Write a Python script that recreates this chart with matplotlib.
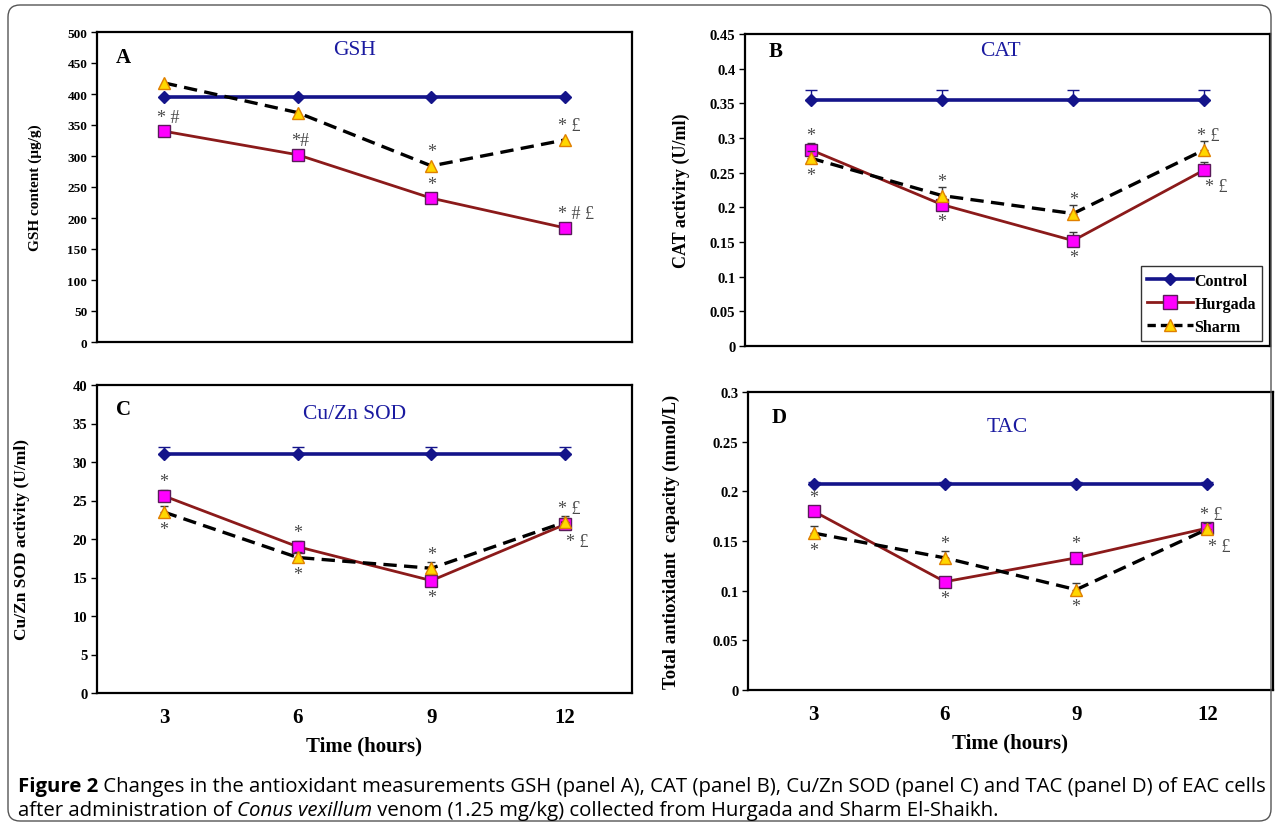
import matplotlib
matplotlib.use("Agg")
import matplotlib.pyplot as plt
from matplotlib.patches import FancyBboxPatch
from matplotlib.transforms import IdentityTransform
from matplotlib.lines import Line2D

# ---------------- data ----------------
times = ["3", "6", "9", "12"]
series_names = ["Control", "Hurgada", "Sharm"]

gsh_control = [395, 395, 395, 395]
gsh_hurgada = [340, 302, 232, 184]
gsh_sharm = [418, 370, 284, 326]
gsh_ticks = ["0", "50", "100", "150", "200", "250", "300", "350", "400", "450", "500"]

cat_control = [0.355, 0.355, 0.355, 0.355]
cat_hurgada = [0.283, 0.204, 0.152, 0.254]
cat_sharm = [0.271, 0.217, 0.191, 0.283]
cat_control_err = [0.014, 0.014, 0.014, 0.014]
cat_hurgada_err = [0.010, 0.008, 0.012, 0.011]
cat_sharm_err = [0.010, 0.012, 0.012, 0.013]
cat_ticks = ["0", "0.05", "0.1", "0.15", "0.2", "0.25", "0.3", "0.35", "0.4", "0.45"]

sod_control = [31.0, 31.0, 31.0, 31.0]
sod_hurgada = [25.6, 19.0, 14.6, 21.9]
sod_sharm = [23.5, 17.6, 16.2, 22.2]
sod_control_err = [0.9, 0.9, 0.9, 0.9]
sod_hurgada_err = [0.7, 0.8, 0.6, 0.8]
sod_sharm_err = [0.8, 0.7, 0.8, 0.8]
sod_ticks = ["0", "5", "10", "15", "20", "25", "30", "35", "40"]

tac_control = [0.207, 0.207, 0.207, 0.207]
tac_hurgada = [0.180, 0.109, 0.133, 0.163]
tac_sharm = [0.158, 0.133, 0.101, 0.162]
tac_control_err = [0.002, 0.002, 0.002, 0.002]
tac_hurgada_err = [0.004, 0.004, 0.004, 0.004]
tac_sharm_err = [0.007, 0.007, 0.007, 0.006]
tac_ticks = ["0", "0.05", "0.1", "0.15", "0.2", "0.25", "0.3"]

# annotations: (point index, series, text, where)
gsh_notes = [(0, "H", "* #", "above"), (1, "H", "*#", "above"), (2, "H", "*", "above"),
             (3, "H", "* # \u00a3", "above"), (2, "S", "*", "above"), (3, "S", "* \u00a3", "above")]
cat_notes = [(0, "H", "*", "above"), (0, "S", "*", "below"), (1, "S", "*", "above"),
             (1, "H", "*", "below"), (2, "S", "*", "above"), (2, "H", "*", "below"),
             (3, "S", "* \u00a3", "above"), (3, "H", "* \u00a3", "belowright")]
sod_notes = [(0, "H", "*", "above"), (0, "S", "*", "below"), (1, "H", "*", "above"),
             (1, "S", "*", "below"), (2, "S", "*", "above"), (2, "H", "*", "below"),
             (3, "S", "* \u00a3", "above"), (3, "H", "* \u00a3", "belowright")]
tac_notes = [(0, "H", "*", "above"), (0, "S", "*", "below"), (1, "S", "*", "above"),
             (1, "H", "*", "below"), (2, "H", "*", "above"), (2, "S", "*", "below"),
             (3, "H", "* \u00a3", "above"), (3, "S", "* \u00a3", "belowright")]

SERIF = ["Liberation Serif", "DejaVu Serif"]
plt.rcParams["font.family"] = SERIF

W, H = 1279, 828
fig = plt.figure(figsize=(W / 100, H / 100), dpi=100)
fig.patch.set_facecolor("white")

frame = FancyBboxPatch((8, 6), 1263, 816, boxstyle="round,pad=0,rounding_size=12",
                       transform=IdentityTransform(), fill=False, edgecolor="#555555",
                       linewidth=1.0)
fig.patches.append(frame)

C_CTRL = "#14148a"
C_HURG_LINE = "#8b1a1a"
C_HURG_FACE = "#ff00ff"
C_HURG_EDGE = "#5a1a5a"
C_SHARM_FACE = "#ffd700"
C_SHARM_EDGE = "#e08000"
C_TITLE = "#1a1aa0"
C_NOTE = "#4a4a4a"

def px_axes(l, t, r, b):
    return fig.add_axes([l / W, 1 - b / H, (r - l) / W, (b - t) / H])

def draw_panel(ax, ctrl, hurg, sharm, errs, ticks, ymax, letter, title, ylabel,
               notes, show_x, letter_pos, title_pos, ylab_x, tick_fs, ylab_fs):
    x = [1, 2, 3, 4]
    ce, he, se = errs
    ax.errorbar(x, ctrl, yerr=[[0] * 4, ce] if ce else None, color=C_CTRL, lw=2.6,
                marker="D", ms=6, mfc=C_CTRL, mec=C_CTRL, ecolor=C_CTRL, elinewidth=1,
                capsize=4, capthick=1, zorder=3)
    ax.errorbar(x, hurg, yerr=[[0] * 4, he] if he else None, color=C_HURG_LINE, lw=2.0,
                marker="s", ms=9, mfc=C_HURG_FACE, mec=C_HURG_EDGE, mew=1.0,
                ecolor="#3a3a3a", elinewidth=1, capsize=3, capthick=1, zorder=4)
    ax.errorbar(x, sharm, yerr=[[0] * 4, se] if se else None, color="black", lw=2.4,
                ls=(0, (4, 2.2)), marker="^", ms=9, mfc=C_SHARM_FACE, mec=C_SHARM_EDGE,
                mew=1.0, ecolor="#3a3a3a", elinewidth=1, capsize=3, capthick=1, zorder=5)
    ax.set_xlim(0.5, 4.5)
    ax.set_ylim(0, ymax)
    ax.set_yticks([float(t) for t in ticks])
    ax.set_yticklabels(ticks, fontsize=tick_fs, fontweight="bold")
    ax.set_xticks(x)
    if show_x:
        ax.set_xticklabels(times, fontsize=15, fontweight="bold")
        ax.tick_params(axis="x", length=0, pad=10)
        ax.set_xlabel("Time (hours)", fontsize=15, fontweight="bold", labelpad=6)
    else:
        ax.set_xticklabels([])
        ax.tick_params(axis="x", length=0)
    ax.tick_params(axis="y", length=4, width=1, direction="out", pad=3)
    for s in ax.spines.values():
        s.set_linewidth(1.6)
        s.set_color("black")
    ax.set_ylabel(ylabel, fontsize=ylab_fs, fontweight="bold")
    ax.yaxis.set_label_coords(ylab_x, 0.5)
    ax.text(letter_pos[0], letter_pos[1], letter, transform=ax.transAxes, fontsize=15,
            fontweight="bold", ha="left", va="center")
    ax.text(title_pos[0], title_pos[1], title, transform=ax.transAxes, fontsize=15.5,
            color=C_TITLE, ha="center", va="center")
    data = {"H": hurg, "S": sharm}
    for i, s, txt, where in notes:
        yv = data[s][i]
        dy = 14 if where == "above" else -17
        dx = 0
        ha = "center"
        if txt != "*":
            ha = "left"
            dx = -7
        if where == "belowright":
            dx = 1
        ax.annotate(txt, (x[i], yv), xytext=(dx * 0.72, dy * 0.72), textcoords="offset points",
                    ha=ha, va="center", fontsize=13, color=C_NOTE, zorder=6)

axA = px_axes(97, 33, 632, 343)
axB = px_axes(745, 35, 1270, 347)
axC = px_axes(97, 386, 632, 694)
axD = px_axes(748, 393, 1273, 691)

draw_panel(axA, gsh_control, gsh_hurgada, gsh_sharm, (None, None, None), gsh_ticks, 500,
           "A", "GSH", "GSH content (\u00b5g/g)", gsh_notes, False,
           (0.035, 0.918), (0.482, 0.945), -0.103, 9.5, 11)
draw_panel(axB, cat_control, cat_hurgada, cat_sharm, (cat_control_err, cat_hurgada_err, cat_sharm_err),
           cat_ticks, 0.45, "B", "CAT", "CAT activiry (U/ml)", cat_notes, False,
           (0.045, 0.945), (0.486, 0.948), -0.105, 10.5, 13)
draw_panel(axC, sod_control, sod_hurgada, sod_sharm, (sod_control_err, sod_hurgada_err, sod_sharm_err),
           sod_ticks, 40, "C", "Cu/Zn SOD", "Cu/Zn SOD activity (U/ml)", sod_notes, True,
           (0.035, 0.922), (0.482, 0.906), -0.125, 10.5, 12.5)
draw_panel(axD, tac_control, tac_hurgada, tac_sharm, (tac_control_err, tac_hurgada_err, tac_sharm_err),
           tac_ticks, 0.3, "D", "TAC", "Total antioxidant  capacity (mmol/L)", tac_notes, True,
           (0.045, 0.916), (0.493, 0.883), -0.13, 10.5, 13.5)

handles = [
    Line2D([], [], color=C_CTRL, lw=2.6, marker="D", ms=6, mfc=C_CTRL, mec=C_CTRL),
    Line2D([], [], color=C_HURG_LINE, lw=2.0, marker="s", ms=10, mfc=C_HURG_FACE, mec=C_HURG_EDGE),
    Line2D([], [], color="black", lw=2.4, ls=(0, (2.5, 1.5)), marker="^", ms=9,
           mfc=C_SHARM_FACE, mec=C_SHARM_EDGE),
]
leg = axB.legend(handles, series_names, loc="lower right", bbox_to_anchor=(0.985, 0.015),
                 frameon=True, fancybox=False, edgecolor="black",
                 prop={"family": SERIF, "weight": "bold", "size": 11.5},
                 handlelength=2.9, handletextpad=0.05, borderpad=0.4, labelspacing=0.45,
                 borderaxespad=0)
leg.get_frame().set_linewidth(1.0)

# ---------------- caption ----------------
CAP_FONT = ["Open Sans", "DejaVu Sans"]
renderer = fig.canvas.get_renderer()

def draw_runs(x0, y0, runs, size):
    x = x0
    objs = []
    for txt, weight, style in runs:
        t = fig.text(x, y0, txt, transform=IdentityTransform(), fontsize=size,
                     fontweight=weight, fontstyle=style, family=CAP_FONT, ha="left",
                     va="baseline")
        bb = t.get_window_extent(renderer)
        x = bb.x1
        objs.append(t)
    return x - x0, objs

line1 = [("Figure 2", "bold", "normal"),
         (" Changes in the antioxidant measurements GSH (panel A), CAT (panel B), Cu/Zn SOD (panel C) and TAC (panel D) of EAC cells",
          "normal", "normal")]
line2 = [("after administration of ", "normal", "normal"), ("Conus vexillum", "normal", "italic"),
         (" venom (1.25 mg/kg) collected from Hurgada and Sharm El-Shaikh.", "normal", "normal")]

wprobe, objs = draw_runs(0, 0, line1, 12)
for o in objs:
    o.remove()
cap_size = 12 * 1248 / wprobe
draw_runs(18, H - 792, line1, cap_size)
draw_runs(18, H - 816, line2, cap_size)

fig.savefig("out.png", dpi=100)
